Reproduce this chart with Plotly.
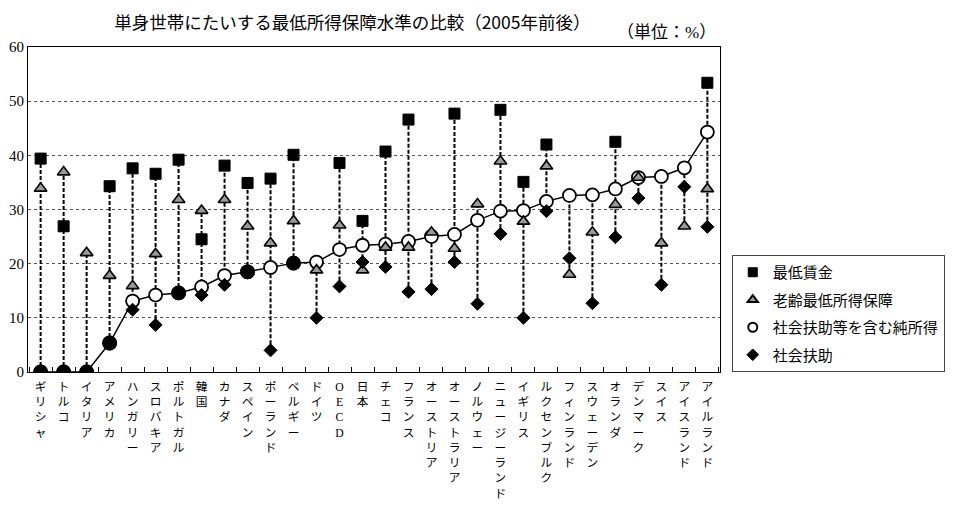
import plotly.graph_objects as go

countries = ["ギリシャ", "トルコ", "イタリア", "アメリカ", "ハンガリー", "スロバキア", "ポルトガル",
             "韓国", "カナダ", "スペイン", "ポーランド", "ベルギー", "ドイツ", "OECD", "日本",
             "チェコ", "フランス", "オーストリア", "オーストラリア", "ノルウェー", "ニュージーランド",
             "イギリス", "ルクセンブルク", "フィンランド", "スウェーデン", "オランダ", "デンマーク",
             "スイス", "アイスランド", "アイルランド"]

min_wage = [39.4, 26.9, None, 34.3, 37.6, 36.6, 39.2, 24.5, 38.1, 34.9, 35.7, 40.1, None, 38.6, 27.9,
            40.7, 46.6, None, 47.7, None, 48.4, 35.1, 42.0, None, None, 42.5, None, None, None, 53.4]
elderly_min = [33.9, 36.9, 22.0, 17.8, 15.9, 21.8, 31.8, 29.8, 31.8, 26.9, 23.8, 27.9, 18.8, 27.1, 18.8,
               23.0, 23.0, 25.8, 22.8, 31.0, 38.9, 27.8, 38.0, 18.0, 25.8, 30.9, 35.9, 23.8, 26.9, 33.8]
net_income = [0.0, 0.0, 0.0, 5.35, 13.1, 14.2, 14.6, 15.7, 17.8, 18.5, 19.3, 20.1, 20.3, 22.6, 23.4,
              23.6, 24.1, 25.0, 25.4, 28.0, 29.7, 29.8, 31.5, 32.6, 32.7, 33.8, 35.9, 36.1, 37.7, 44.3]
social_assist = [0.0, 0.0, 0.0, 5.35, 11.5, 8.7, 14.6, 14.2, 16.1, 18.5, 4.0, 20.1, 10.0, 15.8, 20.3,
                 19.4, 14.8, 15.3, 20.3, 12.6, 25.5, 10.0, 29.7, 21.0, 12.7, 24.9, 32.1, 16.1, 34.2, 26.8]

series_names = ["最低賃金", "老齢最低所得保障", "社会扶助等を含む純所得", "社会扶助"]

CJK = "Noto Sans CJK JP"
SERIF = "Liberation Serif, Noto Sans CJK JP"

tick_text = ["<br>".join(list(c)) for c in countries]

# vertical dashed connectors (range of each country's values)
vx, vy = [], []
for i, c in enumerate(countries):
    vals = [v for v in (min_wage[i], elderly_min[i], net_income[i], social_assist[i]) if v is not None]
    vx += [c, c, None]
    vy += [min(vals), max(vals), None]

# points where social assistance equals net income: drawn as filled circles
eq_x = [c for c, n, s in zip(countries, net_income, social_assist) if abs(n - s) < 1e-9]
eq_y = [n for n, s in zip(net_income, social_assist) if abs(n - s) < 1e-9]

SQ = dict(symbol="square", size=11, color="black", line=dict(color="black", width=1))
TRI = dict(symbol="triangle-up", size=11, color="#9a9a9a", line=dict(color="black", width=1.6))
CIR = dict(symbol="circle", size=13, color="white", line=dict(color="black", width=1.8))
DIA = dict(symbol="diamond", size=10, color="black", line=dict(color="black", width=1))

fig = go.Figure()
fig.add_trace(go.Scatter(x=vx, y=vy, mode="lines", line=dict(color="black", width=2, dash="4px,2px"),
                         showlegend=False, hoverinfo="skip"))
fig.add_trace(go.Scatter(x=countries, y=net_income, mode="lines", line=dict(color="black", width=1.5),
                         showlegend=False, hoverinfo="skip"))
fig.add_trace(go.Scatter(x=countries, y=min_wage, mode="markers", marker=SQ, showlegend=False))
fig.add_trace(go.Scatter(x=countries, y=net_income, mode="markers", marker=CIR, showlegend=False))
fig.add_trace(go.Scatter(x=eq_x, y=eq_y, mode="markers", showlegend=False,
                         marker=dict(symbol="circle", size=13, color="black",
                                     line=dict(color="black", width=1.8))))
fig.add_trace(go.Scatter(x=countries, y=elderly_min, mode="markers", marker=TRI, showlegend=False))
fig.add_trace(go.Scatter(x=countries, y=social_assist, mode="markers", marker=DIA, showlegend=False))

# legend entries (smaller symbols, as in the reference legend)
leg_markers = [
    dict(symbol="square", size=9, color="black", line=dict(color="black", width=1)),
    dict(symbol="triangle-up", size=9, color="#9a9a9a", line=dict(color="black", width=2)),
    dict(symbol="circle", size=9, color="white", line=dict(color="black", width=2)),
    dict(symbol="diamond", size=9, color="black", line=dict(color="black", width=1)),
]
for k, (nm, mk) in enumerate(zip(series_names, leg_markers)):
    fig.add_trace(go.Scatter(x=[None], y=[None], mode="markers", name=nm, marker=mk,
                             legendgroup=f"g{k}", showlegend=True, legendrank=k + 1))

# the page body has an 8px default margin, so the figure is 8px smaller than the window
fig.update_layout(
    width=946, height=499,
    margin=dict(l=20, r=234, t=39, b=135, autoexpand=False),
    paper_bgcolor="white", plot_bgcolor="white",
    font=dict(family=SERIF, size=14, color="black"),
    showlegend=True,
    legend=dict(x=1.017, y=0.0, xanchor="left", yanchor="bottom",
                bordercolor="#444", borderwidth=1, bgcolor="white",
                font=dict(family=SERIF, size=15), traceorder="grouped",
                tracegroupgap=5, entrywidth=200, entrywidthmode="pixels"),
    title=dict(text="単身世帯にたいする最低所得保障水準の比較（2005年前後）",
               x=0.364, xanchor="center", y=0.971, yanchor="middle",
               font=dict(family=CJK, size=17.5, color="black")),
    annotations=[dict(text="（単位：%）", xref="paper", yref="paper", x=0.997, y=1.008,
                      xanchor="right", yanchor="bottom", showarrow=False,
                      font=dict(family=SERIF, size=17))],
)

fig.update_xaxes(
    categoryorder="array", categoryarray=countries,
    tickmode="array", tickvals=countries, ticktext=tick_text,
    tickson="boundaries", ticks="inside", ticklen=5, tickcolor="black",
    showline=True, linecolor="black", linewidth=1, mirror=True,
    showgrid=False, tickangle=0, ticklabelstandoff=4, automargin=False,
    tickfont=dict(family=SERIF, size=11.7),
    range=[-0.55, 29.55],
)
fig.update_yaxes(
    range=[0, 60], dtick=10, showline=True, linecolor="black", linewidth=1, mirror=True,
    showgrid=True, gridcolor="#555", griddash="dot", gridwidth=1, automargin=False,
    zeroline=False, ticks="", tickfont=dict(family=SERIF, size=15),
)

fig.write_html("out.html")
